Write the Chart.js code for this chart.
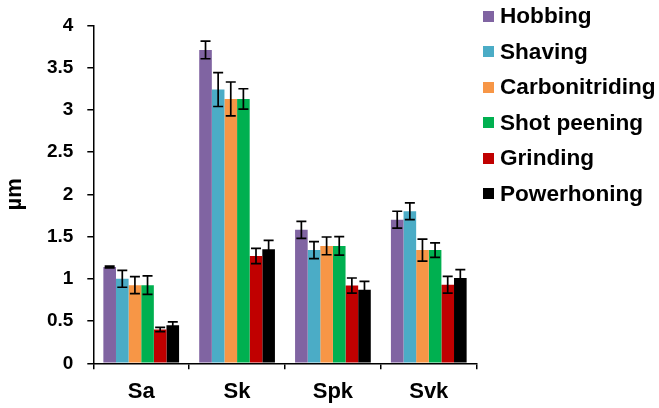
<!DOCTYPE html>
<html>
<head>
<meta charset="utf-8">
<script src="https://cdn.jsdelivr.net/npm/chart.js@4.4.1/dist/chart.umd.min.js"></script>
<style>
  html, body { margin: 0; padding: 0; background: #fff; }
  #wrap { position: relative; width: 659px; height: 408px; }
  #legend { position: absolute; left: 483px; top: 0; font-family: "Liberation Sans", Arial, sans-serif; font-weight: bold; font-size: 22.6px; color: #000; }
  .row { position: absolute; left: 0; height: 36px; display: flex; align-items: center; white-space: nowrap; }
  .sw { width: 11px; height: 11px; margin-right: 6px; flex: none; }
</style>
</head>
<body>
<div id="wrap">
  <canvas id="c" width="659" height="408"></canvas>
  <div id="legend"></div>
</div>
<script>
const categories = ['Sa', 'Sk', 'Spk', 'Svk'];
const seriesNames = ['Hobbing', 'Shaving', 'Carbonitriding', 'Shot peening', 'Grinding', 'Powerhoning'];
const seriesColors = ['#8064A2', '#4BACC6', '#F79646', '#00B050', '#C00000', '#000000'];

const hobbing        = [1.14, 3.71, 1.58, 1.70];
const shaving        = [1.00, 3.24, 1.34, 1.80];
const carbonitriding = [0.925, 3.13, 1.39, 1.34];
const shotPeening    = [0.925, 3.13, 1.39, 1.34];
const grinding       = [0.40, 1.27, 0.92, 0.93];
const powerhoning    = [0.45, 1.35, 0.87, 1.01];

const hobbingErr        = [0.01, 0.105, 0.10, 0.10];
const shavingErr        = [0.10, 0.20, 0.10, 0.10];
const carbonitridingErr = [0.10, 0.20, 0.105, 0.13];
const shotPeeningErr    = [0.11, 0.12, 0.11, 0.085];
const grindingErr       = [0.025, 0.09, 0.09, 0.10];
const powerhoningErr    = [0.04, 0.105, 0.10, 0.10];

const yTickLabels = ['0', '0.5', '1', '1.5', '2', '2.5', '3', '3.5', '4'];
const yTitle = 'µm';

const seriesValues = [hobbing, shaving, carbonitriding, shotPeening, grinding, powerhoning];
const seriesErrors = [hobbingErr, shavingErr, carbonitridingErr, shotPeeningErr, grindingErr, powerhoningErr];

const FONT = '"Liberation Sans", Arial, sans-serif';

const errorBars = {
  id: 'errorBars',
  afterDatasetsDraw(chart) {
    const ctx = chart.ctx;
    const yScale = chart.scales.y;
    ctx.save();
    ctx.strokeStyle = '#000';
    ctx.lineWidth = 1.7;
    chart.data.datasets.forEach((ds, di) => {
      const meta = chart.getDatasetMeta(di);
      meta.data.forEach((el, i) => {
        const v = ds.data[i], e = ds.errors[i];
        const x = el.x;
        const yTop = yScale.getPixelForValue(v + e);
        const yBot = yScale.getPixelForValue(v - e);
        const half = 5;
        ctx.beginPath();
        ctx.moveTo(x, yTop); ctx.lineTo(x, yBot);
        ctx.moveTo(x - half, yTop); ctx.lineTo(x + half, yTop);
        ctx.moveTo(x - half, yBot); ctx.lineTo(x + half, yBot);
        ctx.stroke();
      });
    });
    ctx.restore();
  }
};

const datasets = seriesNames.map((name, i) => ({
  label: name,
  data: seriesValues[i],
  errors: seriesErrors[i],
  backgroundColor: seriesColors[i],
  borderWidth: 0,
  categoryPercentage: 0.79,
  barPercentage: 1.0
}));

new Chart(document.getElementById('c'), {
  type: 'bar',
  data: { labels: categories, datasets },
  plugins: [errorBars],
  options: {
    responsive: false,
    animation: false,
    devicePixelRatio: 1,
    layout: { padding: { top: 21.7, right: 182.3, bottom: 0, left: 0 } },
    plugins: { legend: { display: false }, tooltip: { enabled: false } },
    scales: {
      x: {
        grid: { display: true, drawOnChartArea: false, drawTicks: true, tickLength: 6, color: '#000', lineWidth: 1.5, offset: true },
        border: { display: true, color: '#000', width: 1.5 },
        ticks: { color: '#000', padding: 9, font: { family: FONT, size: 22, weight: 'bold' } },
        afterFit(scale) { scale.height = 44.7; }
      },
      y: {
        min: 0, max: 4,
        grid: { display: true, drawOnChartArea: false, drawTicks: true, tickLength: 6, color: '#000', lineWidth: 1.5 },
        border: { display: true, color: '#000', width: 1.5 },
        ticks: {
          stepSize: 0.5, color: '#000', padding: 14,
          font: { family: FONT, size: 19, weight: 'bold' },
          callback: (v, i) => yTickLabels[i]
        },
        title: { display: true, text: yTitle, color: '#000', font: { family: FONT, size: 22, weight: 'bold', lineHeight: 1.0 }, padding: { top: 4, bottom: 0 } },
        afterFit(scale) { scale.width = 93.3; }
      }
    }
  }
});

const legendEl = document.getElementById('legend');
seriesNames.forEach((name, i) => {
  const row = document.createElement('div');
  row.className = 'row';
  row.style.top = (16.2 - 18 + i * 35.5) + 'px';
  const sw = document.createElement('span');
  sw.className = 'sw';
  sw.style.background = seriesColors[i];
  const tx = document.createElement('span');
  tx.textContent = name;
  row.appendChild(sw); row.appendChild(tx);
  legendEl.appendChild(row);
});
</script>
</body>
</html>
